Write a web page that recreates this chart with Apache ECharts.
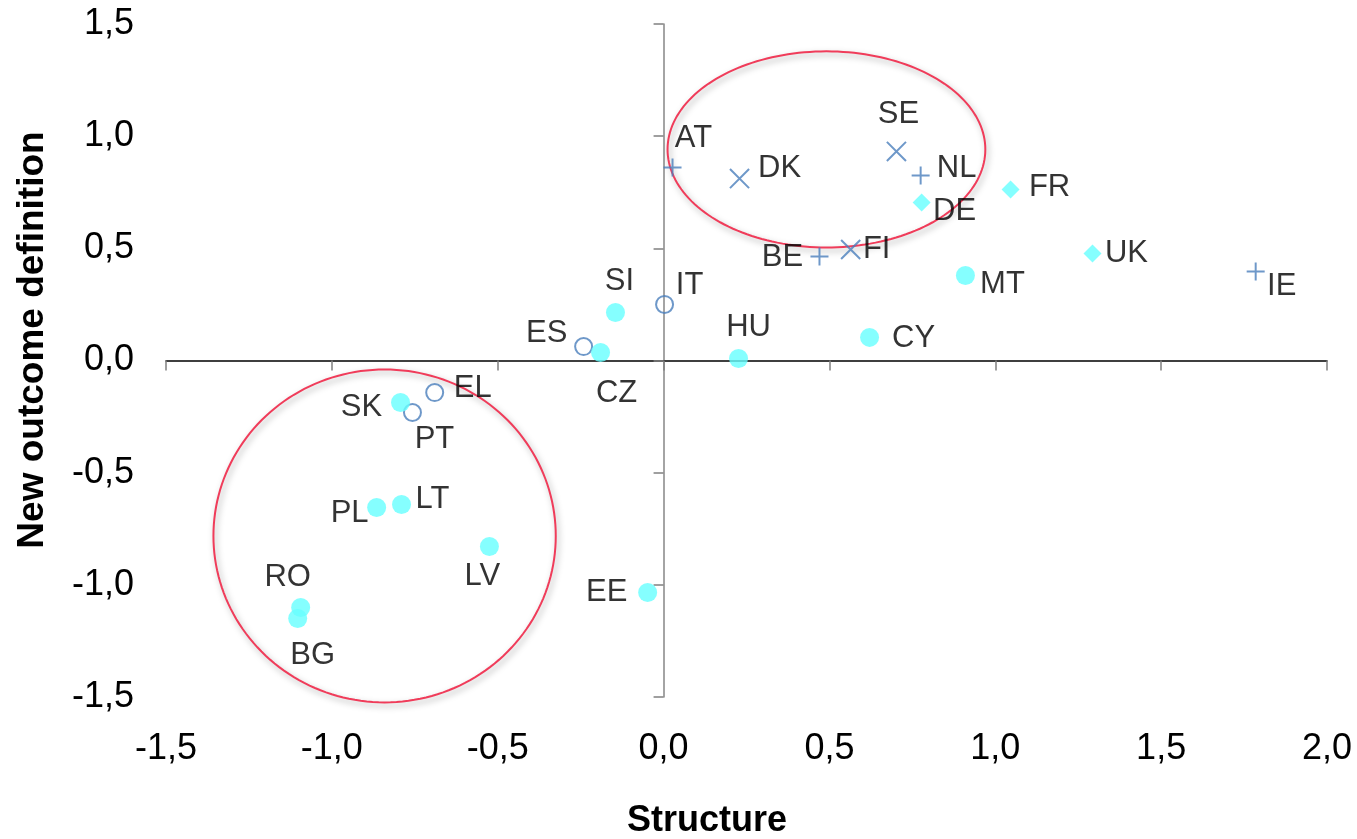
<!DOCTYPE html>
<html>
<head>
<meta charset="utf-8">
<title>Structure vs. new outcome definition</title>
<script src="https://cdn.jsdelivr.net/npm/echarts@6/dist/echarts.min.js"></script>
<style>
  html, body { margin: 0; padding: 0; background: #fff; }
  #chart { width: 1357px; height: 839px; }
</style>
</head>
<body>
<div id="chart"></div>
<script>
// Country scores: [structure, new outcome definition]
const plusCountries = ['AT', 'NL', 'BE', 'IE'];
const plusValues = [[0.027, 0.860], [0.775, 0.825], [0.470, 0.464], [1.785, 0.397]];

const crossCountries = ['DK', 'SE', 'FI'];
const crossValues = [[0.229, 0.811], [0.702, 0.932], [0.564, 0.495]];

const diamondCountries = ['DE', 'FR', 'UK'];
const diamondValues = [[0.778, 0.704], [1.046, 0.762], [1.293, 0.477]];

const ringCountries = ['IT', 'ES', 'EL', 'PT'];
const ringValues = [[0.003, 0.250], [-0.241, 0.062], [-0.690, -0.143], [-0.757, -0.232]];

const dotCountries = ['MT', 'CY', 'HU', 'SI', 'CZ', 'SK', 'PL', 'LT', 'LV', 'EE', 'RO', 'BG'];
const dotValues = [
  [0.910, 0.379], [0.621, 0.103], [0.226, 0.009], [-0.145, 0.214],
  [-0.190, 0.036], [-0.793, -0.187], [-0.865, -0.655], [-0.790, -0.642],
  [-0.525, -0.829], [-0.048, -1.034], [-1.094, -1.101], [-1.103, -1.150]
];

// Highlighted clusters: [centre x, centre y, radius x, radius y] in axis units
const clusterEllipses = [[0.491, 0.941, 0.479, 0.437], [-0.841, -0.782, 0.516, 0.742]];

const xTicks = [-1.5, -1.0, -0.5, 0.0, 0.5, 1.0, 1.5, 2.0];
const yTicks = [-1.5, -1.0, -0.5, 0.0, 0.5, 1.0, 1.5];

// Label placement around each marker (pixel offsets from the marker centre)
const labelOffsets = {
  AT: [21, -29], DK: [40, -10], SE: [2, -37], NL: [36, -7], DE: [33, 9],
  FR: [39, -2], UK: [34, 0], IE: [26, 15], BE: [-37, 1], FI: [26, 0],
  MT: [37, 9], CY: [44, 1], HU: [10, -31], IT: [25, -19], SI: [4, -31],
  ES: [-37, -13], CZ: [16, 41], EL: [38, -4], SK: [-39, 5], PT: [22, 27],
  PL: [-27, 6], LT: [31, -5], LV: [-7, 30], EE: [-41, 0], RO: [-13, -30], BG: [15, 37]
};

const FONT = "'Liberation Sans', Arial, Helvetica, sans-serif";
const BLUE = '#4A7EBB';
const CYAN = '#66FFFF';

const PLUS_PATH = 'path://M0,8.9h20v2.2h-20z M8.9,0h2.2v20h-2.2z';
const CROSS_PATH = 'path://M0,9.25h20v1.5h-20z M9.25,0h1.5v20h-1.5z';

function toPoints(names, values) {
  return names.map((n, i) => ({ name: n, value: values[i] }));
}

const labelStyle = {
  show: true,
  position: 'top',
  distance: 0,
  formatter: '{b}',
  color: '#000000',
  fontSize: 31,
  fontFamily: FONT
};

// Centre each country code on its marker, shifted by its offset
function placeLabel(params) {
  const off = labelOffsets[params.text] || [0, 0];
  const r = params.rect;
  return {
    x: r.x + r.width / 2 + off[0],
    y: r.y + r.height / 2 + off[1],
    align: 'center',
    verticalAlign: 'middle'
  };
}

const fmt = v => v.toFixed(1).replace('.', ',');

const chart = echarts.init(document.getElementById('chart'), null, { renderer: 'canvas' });

const axisCommonX = { type: 'value', min: xTicks[0], max: xTicks[xTicks.length - 1], interval: 0.5, splitLine: { show: false } };
const axisCommonY = { type: 'value', min: yTicks[0], max: yTicks[yTicks.length - 1], interval: 0.5, splitLine: { show: false } };

chart.setOption({
  animation: false,
  backgroundColor: '#fff',
  grid: { left: 166, right: 30, top: 24, bottom: 142, containLabel: false, outerBoundsMode: 'none' },
  xAxis: [
    Object.assign({}, axisCommonX, {
      position: 'bottom',
      axisLine: { show: true, onZero: true, lineStyle: { color: '#000', width: 1.5 } },
      axisTick: { show: true, length: 10, lineStyle: { color: '#808080', width: 1.5 } },
      axisLabel: { show: false }
    }),
    Object.assign({}, axisCommonX, {
      position: 'bottom',
      axisLine: { show: false, onZero: false },
      axisTick: { show: false },
      axisLabel: {
        show: true, margin: 34, fontSize: 36, fontFamily: FONT, color: '#000',
        showMinLabel: true, showMaxLabel: true, formatter: fmt
      }
    })
  ],
  yAxis: [
    Object.assign({}, axisCommonY, {
      position: 'left',
      axisLine: { show: true, onZero: true, lineStyle: { color: '#868686', width: 1.5 } },
      axisTick: { show: true, length: 10, lineStyle: { color: '#808080', width: 1.5 } },
      axisLabel: { show: false }
    }),
    Object.assign({}, axisCommonY, {
      position: 'left',
      axisLine: { show: false, onZero: false },
      axisTick: { show: false },
      axisLabel: {
        show: true, margin: 32, fontSize: 36, fontFamily: FONT, color: '#000',
        showMinLabel: true, showMaxLabel: true, formatter: fmt
      }
    })
  ],
  graphic: [
    {
      type: 'text', x: 707, y: 821,
      style: { text: 'Structure', font: 'bold 36px ' + FONT, fill: '#000', textAlign: 'center', textVerticalAlign: 'middle' }
    },
    {
      type: 'text', x: 33, y: 340, rotation: Math.PI / 2,
      style: { text: 'New outcome definition', font: 'bold 37px ' + FONT, fill: '#000', textAlign: 'center', textVerticalAlign: 'middle' }
    }
  ],
  series: [
    {
      type: 'custom',
      xAxisIndex: 0, yAxisIndex: 0,
      silent: true,
      clip: false,
      z: 1,
      data: clusterEllipses,
      renderItem: function (params, api) {
        const c = api.coord([api.value(0), api.value(1)]);
        const s = api.size([api.value(2), api.value(3)]);
        const pts = [];
        const n = 180;
        for (let i = 0; i < n; i++) {
          const t = (i / n) * Math.PI * 2;
          pts.push([c[0] + s[0] * Math.cos(t), c[1] + s[1] * Math.sin(t)]);
        }
        return {
          type: 'polygon',
          shape: { points: pts },
          style: {
            fill: 'none',
            stroke: '#F03C5A',
            lineWidth: 2,
            shadowColor: 'rgba(0,0,0,0.35)',
            shadowBlur: 6,
            shadowOffsetX: 2,
            shadowOffsetY: 3
          }
        };
      }
    },
    {
      name: 'plus', type: 'scatter', z: 3,
      symbol: PLUS_PATH, symbolSize: 18, symbolKeepAspect: true,
      itemStyle: { color: BLUE },
      label: labelStyle, labelLayout: placeLabel,
      data: toPoints(plusCountries, plusValues)
    },
    {
      name: 'cross', type: 'scatter', z: 3,
      symbol: CROSS_PATH, symbolSize: 27, symbolRotate: 45, symbolKeepAspect: true,
      itemStyle: { color: BLUE },
      label: labelStyle, labelLayout: placeLabel,
      data: toPoints(crossCountries, crossValues)
    },
    {
      name: 'ring', type: 'scatter', z: 3,
      symbol: 'circle', symbolSize: 17,
      itemStyle: { color: 'rgba(0,0,0,0)', borderColor: BLUE, borderWidth: 2 },
      label: labelStyle, labelLayout: placeLabel,
      data: toPoints(ringCountries, ringValues)
    },
    {
      name: 'diamond', type: 'scatter', z: 4,
      symbol: 'diamond', symbolSize: 18,
      itemStyle: { color: CYAN },
      label: labelStyle, labelLayout: placeLabel,
      data: toPoints(diamondCountries, diamondValues)
    },
    {
      name: 'dot', type: 'scatter', z: 4,
      symbol: 'circle', symbolSize: 19,
      itemStyle: { color: CYAN },
      label: labelStyle, labelLayout: placeLabel,
      data: toPoints(dotCountries, dotValues)
    }
  ]
});
</script>
</body>
</html>
